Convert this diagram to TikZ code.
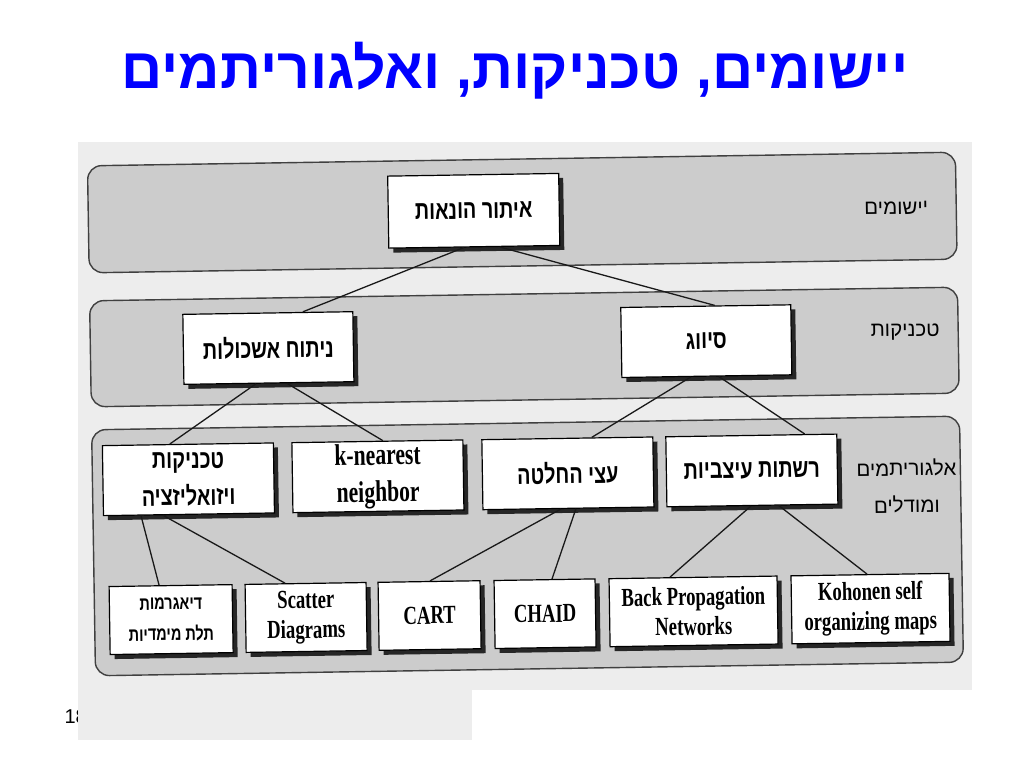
\documentclass[tikz,border=0pt]{standalone}
\usepackage{fontspec}
\setmainfont{Liberation Sans}
\newfontfamily\hebfont[Script=Hebrew]{Liberation Sans}
\newfontfamily\hebbox[Script=Hebrew,FakeStretch=0.76]{Liberation Sans}
\newfontfamily\enfont[FakeStretch=0.72]{Liberation Serif}
\TeXXeTstate=1
\usetikzlibrary{shadows}
\definecolor{titleblue}{RGB}{0,0,255}
\begin{document}
\begin{tikzpicture}[x=1pt,y=-1pt,
  band/.style={draw=black!75, line width=1.4pt, fill=black!20, rounded corners=14pt},
  box/.style={draw=black, line width=1.2pt, fill=white, inner sep=0pt, align=center,
    drop shadow={shadow xshift=4.5pt, shadow yshift=-4.5pt, fill=black!85, opacity=1}},
  heb/.style={font=\hebbox\bfseries\fontsize{26}{37}\selectfont},
  hebsmall/.style={font=\hebbox\bfseries\fontsize{19}{31}\selectfont},
  en/.style={font=\enfont\bfseries\fontsize{30}{37}\selectfont},
  ensm/.style={font=\enfont\bfseries\fontsize{26}{30}\selectfont},
  lbl/.style={font=\hebfont\fontsize{20.5}{37}\selectfont, align=center},
  link/.style={line width=1.3pt, draw=black!90}]
\useasboundingbox (0,0) rectangle (1024,768);
\fill[white] (0,0) rectangle (1024,768);
% title and slide number
\node (title) at (515,71) {\hebfont\bfseries\fontsize{57}{60}\selectfont\color{titleblue}\beginR יישומים, טכניקות, ואלגוריתמים\endR};
\node[anchor=west, font=\fontsize{20}{22}\selectfont] (num) at (61,717) {18};
% scanned page background
\fill[black!7] (78,142) rectangle (972,740);
\fill[white] (472,690) rectangle (1024,768);
\begin{scope}[rotate around={0.9:(525,450)}, transform shape]
  % bands
  \draw[band] (92,159) rectangle (960,266);
  \draw[band] (92,294) rectangle (960,400);
  \draw[band] (92,423) rectangle (960,669);
  % band labels
  \node[lbl] (l1) at (900,214) {\beginR יישומים\endR};
  \node[lbl] (l2) at (907,338) {\beginR טכניקות\endR};
  \node[lbl] (l3) at (906,492) {\beginR אלגוריתמים\endR\\\beginR ומודלים\endR};
  % level 1
  \node[box, heb, minimum width=171pt, minimum height=72pt] (top) at (477.5,210) {\beginR איתור הונאות\endR};
  % level 2
  \node[box, heb, minimum width=170pt, minimum height=70pt] (clus) at (270,344) {\beginR ניתוח אשכולות\endR};
  \node[box, heb, minimum width=170pt, minimum height=70pt] (cls) at (708,344) {\beginR סיווג\endR};
  % level 3 row 1
  \node[box, heb, minimum width=171pt, minimum height=70pt] (vis) at (188,474) {\beginR טכניקות\endR\\\beginR ויזואליזציה\endR};
  \node[box, en, minimum width=171pt, minimum height=70pt] (knn) at (377.5,474) {k-nearest\\neighbor};
  \node[box, heb, minimum width=171pt, minimum height=70pt] (tree) at (567.5,474) {\beginR עצי החלטה\endR};
  \node[box, heb, minimum width=171pt, minimum height=70pt] (nn) at (751.5,474) {\beginR רשתות עיצביות\endR};
  % level 3 row 2
  \node[box, hebsmall, minimum width=123pt, minimum height=68pt] (d3) at (168.5,614) {\beginR דיאגרמות\endR\\\beginR תלת מימדיות\endR};
  \node[box, ensm, minimum width=121pt, minimum height=68pt] (scat) at (303.5,614) {Scatter\\Diagrams};
  \node[box, ensm, minimum width=102pt, minimum height=68pt] (cart) at (427,614) {CART};
  \node[box, ensm, minimum width=101pt, minimum height=68pt] (chaid) at (542.5,614) {CHAID};
  \node[box, ensm, minimum width=168pt, minimum height=68pt] (bp) at (691,614) {Back Propagation\\Networks};
  \node[box, ensm, minimum width=158pt, minimum height=68pt] (koh) at (868,614) {Kohonen self\\organizing maps};
  % connectors
  \draw[link] ([xshift=-10.5pt]top.south) -- ([xshift=35pt]clus.north);
  \draw[link] ([xshift=25.5pt]top.south) -- ([xshift=9pt]cls.north);
  \draw[link] ([xshift=-13pt]clus.south) -- ([xshift=-18pt]vis.north);
  \draw[link] ([xshift=18pt]clus.south) -- ([xshift=5.5pt]knn.north);
  \draw[link] ([xshift=-16pt]cls.south) -- ([xshift=24.5pt]tree.north);
  \draw[link] ([xshift=12pt]cls.south) -- ([xshift=53.5pt]nn.north);
  \draw[link] ([xshift=-48pt]vis.south) -- ([xshift=-11.5pt]d3.north);
  \draw[link] ([xshift=-26pt]vis.south) -- ([xshift=-20.5pt]scat.north);
  \draw[link] ([xshift=-7.5pt]tree.south) -- ([xshift=1pt]cart.north);
  \draw[link] ([xshift=7.5pt]tree.south) -- ([xshift=7.5pt]chaid.north);
  \draw[link] ([xshift=-1.5pt]nn.south) -- ([xshift=-23pt]bp.north);
  \draw[link] ([xshift=26.5pt]nn.south) -- ([xshift=-3pt]koh.north);
\end{scope}
\end{tikzpicture}
\end{document}
